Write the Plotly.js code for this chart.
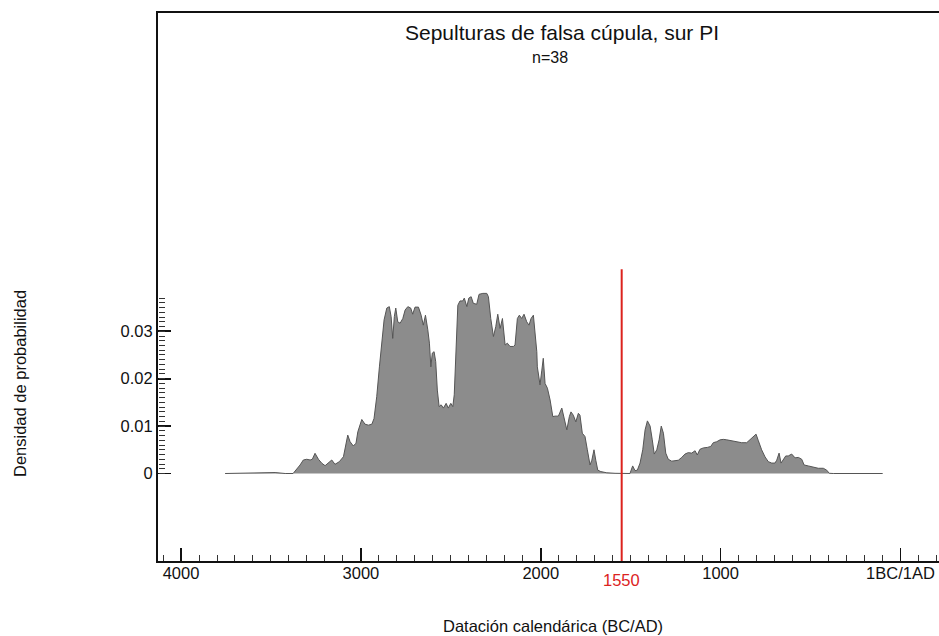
<!DOCTYPE html>
<html>
<head>
<meta charset="utf-8">
<script src="https://cdn.plot.ly/plotly-3.0.1.min.js"></script>
<style>
html,body{margin:0;padding:0;overflow:hidden;background:#fff;width:939px;height:636px;}
#chart{width:962px;height:636px;}
</style>
</head>
<body>
<div id="chart"></div>
<script>
// Calendar years (BC positive) and summed probability density
const years = [3755,3616,3560,3477,3421,3377,3338,3320,3301,3282,3270,3255,3236,3217,3199,3181,3162,3144,3120,3097,3084,3073,3060,3042,3027,3017,2995,2977,2958,2939,2927,2912,2897,2884,2871,2856,2842,2832,2823,2814,2806,2795,2782,2767,2754,2739,2723,2712,2699,2680,2665,2653,2641,2628,2619,2611,2603,2593,2584,2575,2565,2554,2541,2526,2514,2500,2489,2481,2471,2461,2449,2434,2425,2411,2400,2387,2375,2356,2343,2322,2300,2291,2278,2263,2250,2239,2226,2213,2198,2186,2171,2152,2143,2130,2119,2106,2093,2078,2065,2054,2041,2032,2022,2019,2004,1994,1986,1976,1963,1948,1933,1921,1902,1883,1870,1855,1841,1832,1819,1805,1791,1782,1769,1754,1741,1726,1716,1704,1694,1683,1666,1633,1587,1504,1489,1476,1463,1448,1433,1420,1407,1392,1380,1369,1355,1342,1330,1318,1305,1291,1272,1253,1235,1216,1198,1180,1161,1142,1130,1115,1096,1074,1055,1041,1022,1003,985,966,938,911,883,855,837,818,803,790,772,753,735,716,698,688,675,664,651,638,624,605,586,568,549,536,513,485,457,429,410,396,374,99];
const density = [0,0.0001,0,0.0002,0,0,0.0018,0.00285,0.0030,0.00285,0.0030,0.00426,0.0030,0.00215,0.00165,0.00228,0.00285,0.00194,0.00249,0.00354,0.0060,0.0081,0.0067,0.0058,0.0064,0.0088,0.0114,0.0104,0.0102,0.0104,0.0116,0.0162,0.0225,0.0282,0.0324,0.0349,0.0352,0.0331,0.0285,0.0331,0.0349,0.0320,0.0317,0.0327,0.0345,0.0352,0.0349,0.0336,0.0351,0.0351,0.0334,0.0313,0.0334,0.0303,0.0275,0.0225,0.0254,0.0257,0.0236,0.0176,0.0141,0.0145,0.0138,0.0148,0.0138,0.0148,0.0141,0.0166,0.0257,0.0355,0.0364,0.0364,0.0370,0.0352,0.0370,0.0373,0.0359,0.0357,0.0378,0.0380,0.0380,0.0373,0.0327,0.0289,0.0310,0.0336,0.0306,0.0327,0.0271,0.0275,0.0268,0.0268,0.0271,0.0327,0.0334,0.0327,0.0336,0.0320,0.0313,0.0327,0.0334,0.0296,0.0257,0.0225,0.0187,0.0218,0.0243,0.0190,0.0180,0.0155,0.0120,0.0121,0.0121,0.0138,0.0116,0.0092,0.0120,0.0130,0.0123,0.0109,0.0127,0.0123,0.0085,0.0078,0.0050,0.0018,0.0028,0.0050,0.0028,0.0007,0.0004,0.00015,0.00004,0,0.0016,0.0006,0.0007,0.0022,0.0050,0.0092,0.0111,0.0100,0.0071,0.0041,0.0050,0.0071,0.0100,0.0085,0.0043,0.0030,0.0026,0.0027,0.0028,0.0034,0.0041,0.0044,0.0043,0.0048,0.0039,0.0051,0.0054,0.0055,0.0057,0.0065,0.0067,0.0071,0.0072,0.0071,0.0069,0.0067,0.0065,0.0065,0.0071,0.0078,0.0083,0.0069,0.0050,0.0035,0.0025,0.0022,0.0022,0.0028,0.0043,0.0022,0.0030,0.0037,0.0037,0.0041,0.0033,0.0034,0.0030,0.0018,0.0016,0.0013,0.0011,0.0011,0.0007,0.00004,0,0];

const xTickVals = [4000,3000,2000,1000,0];
const xTickText = ['4000','3000','2000','1000','1BC/1AD'];
const yTickVals = [0,0.01,0.02,0.03];
const yTickText = ['0','0.01','0.02','0.03'];
const markerYear = 1550;
const markerTop = 0.0431;
const markerLabel = '1550';
const titleText = 'Sepulturas de falsa cúpula, sur PI';
const subtitleText = 'n=38';
const xTitle = 'Datación calendárica (BC/AD)';
const yTitle = 'Densidad de probabilidad';

const FONT = 'Liberation Sans, Arial, Helvetica, sans-serif';
const yRange = [-0.01846, 0.09715];
const xRange = [4128, -342];
const minorLo = -0.0011, minorHi = 0.0381;
const span = yRange[1]-yRange[0];

const traces = [
  { x: [], y: [], type: 'scatter', mode: 'lines', xaxis: 'x', yaxis: 'y2', showlegend: false, hoverinfo: 'skip' },
  {
    x: years, y: density, type: 'scatter', mode: 'lines',
    fill: 'tozeroy', fillcolor: 'rgb(140,140,140)',
    line: {color: 'rgb(85,85,85)', width: 1},
    hoverinfo: 'skip', showlegend: false
  }
];

const layout = {
  width: 962, height: 636,
  margin: {l: 158, r: 0, t: 13, b: 75},
  paper_bgcolor: '#fff', plot_bgcolor: 'rgba(0,0,0,0)',
  font: {family: FONT, size: 16, color: '#111'},
  showlegend: false,
  xaxis: {
    range: xRange, autorange: false,
    tickmode: 'array', tickvals: xTickVals, ticktext: xTickText,
    ticks: 'inside', ticklen: 13, tickwidth: 1.5, tickcolor: '#111',
    ticklabelstandoff: -4,
    minor: {tickmode: 'linear', tick0: 0, dtick: 100, ticks: 'inside', ticklen: 6, tickwidth: 1, tickcolor: '#333', showgrid: false},
    showline: true, linecolor: '#111', linewidth: 2, mirror: true,
    showgrid: false, zeroline: false,
    tickfont: {family: FONT, size: 16.5, color: '#111'}
  },
  yaxis: {
    range: yRange, autorange: false,
    tickmode: 'array', tickvals: yTickVals, ticktext: yTickText,
    ticks: 'inside', ticklen: 13, tickwidth: 1.8, tickcolor: '#111',
    showline: true, linecolor: '#111', linewidth: 2, mirror: true,
    showgrid: false, zeroline: false,
    tickfont: {family: FONT, size: 16.5, color: '#111'}
  },
  yaxis2: {
    domain: [(minorLo - yRange[0])/span, (minorHi - yRange[0])/span],
    range: [minorLo, minorHi], autorange: false,
    anchor: 'free', position: 0, side: 'left',
    tickmode: 'linear', tick0: 0, dtick: 0.001,
    ticks: 'inside', ticklen: 6, tickwidth: 1, tickcolor: '#333',
    showticklabels: false, showline: false, showgrid: false, zeroline: false
  },
  shapes: [
    {type: 'line', xref: 'x', yref: 'y', x0: markerYear, x1: markerYear, y0: yRange[0], y1: markerTop,
     line: {color: 'rgb(220,35,30)', width: 2}}
  ],
  annotations: [
    {text: titleText, xref: 'paper', yref: 'paper', x: (562-158)/804, y: (561-33)/548, xanchor: 'center', yanchor: 'middle',
     showarrow: false, font: {family: FONT, size: 21, color: '#111'}},
    {text: subtitleText, xref: 'paper', yref: 'paper', x: (550-158)/804, y: (561-57)/548, xanchor: 'center', yanchor: 'middle',
     showarrow: false, font: {family: FONT, size: 16, color: '#111'}},
    {text: markerLabel, xref: 'x', yref: 'paper', x: markerYear, y: (561-580)/548, xanchor: 'center', yanchor: 'middle',
     showarrow: false, font: {family: FONT, size: 16.5, color: 'rgb(220,35,30)'}},
    {text: xTitle, xref: 'paper', yref: 'paper', x: (553-158)/804, y: (561-626)/548, xanchor: 'center', yanchor: 'middle',
     showarrow: false, font: {family: FONT, size: 16.5, color: '#111'}},
    {text: yTitle, xref: 'paper', yref: 'paper', x: (20-158)/804, y: (561-384)/548, xanchor: 'center', yanchor: 'middle',
     textangle: -90, showarrow: false, font: {family: FONT, size: 16.5, color: '#111'}}
  ]
};

Plotly.newPlot('chart', traces, layout, {displayModeBar: false, staticPlot: true});
</script>
</body>
</html>
